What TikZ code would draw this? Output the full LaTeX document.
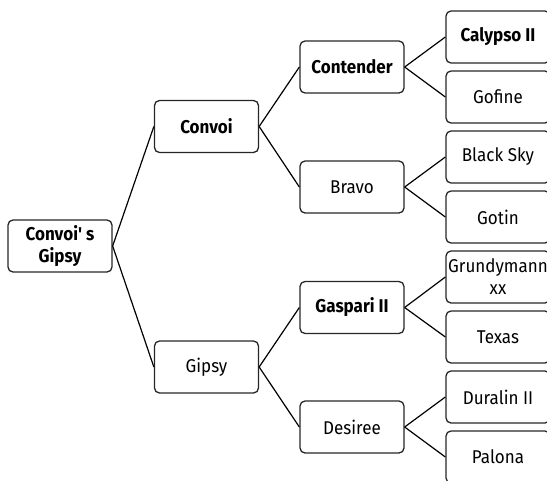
\documentclass[tikz,border=0pt]{standalone}
\usepackage{fontspec}
\setmainfont{Fira Sans}[FakeStretch=0.92, Ligatures=TeXOff]
\begin{document}
\begin{tikzpicture}[x=1pt,y=-1pt,
  box/.style={draw=black!85, line width=1.3pt, rounded corners=5pt, minimum width=104pt, minimum height=52pt, align=center, inner sep=2pt, font=\fontsize{18.5}{22}\selectfont, text=black},
  bbox/.style={box, font=\fontsize{18.5}{22}\selectfont\bfseries},
  link/.style={draw=black, line width=1.2pt}]
\useasboundingbox (0,0) rectangle (547,480);
\clip (0,0) rectangle (547,480);
\node[bbox] (root) at (60,246) {Convoi' s\\Gipsy};
\node[bbox] (convoi) at (206.5,126.5) {Convoi};
\node[box] (gipsy) at (206.5,367) {Gipsy};
\node[bbox] (contender) at (352,67) {Contender};
\node[box] (bravo) at (352,187) {Bravo};
\node[bbox] (gaspari) at (352,307.5) {Gaspari II};
\node[box] (desiree) at (352,427) {Desiree};
\node[bbox] (calypso) at (498,37) {Calypso II};
\node[box] (gofine) at (498,97) {Gofine};
\node[box] (blacksky) at (498,157) {Black Sky};
\node[box] (gotin) at (498,217) {Gotin};
\node[box] (grundy) at (498,277) {Grundymann\\xx};
\node[box] (texas) at (498,337) {Texas};
\node[box] (duralin) at (498,397) {Duralin II};
\node[box] (palona) at (498,457) {Palona};
\draw[link] (root.east) -- (convoi.west);
\draw[link] (root.east) -- (gipsy.west);
\draw[link] (convoi.east) -- (contender.west);
\draw[link] (convoi.east) -- (bravo.west);
\draw[link] (gipsy.east) -- (gaspari.west);
\draw[link] (gipsy.east) -- (desiree.west);
\draw[link] (contender.east) -- (calypso.west);
\draw[link] (contender.east) -- (gofine.west);
\draw[link] (bravo.east) -- (blacksky.west);
\draw[link] (bravo.east) -- (gotin.west);
\draw[link] (gaspari.east) -- (grundy.west);
\draw[link] (gaspari.east) -- (texas.west);
\draw[link] (desiree.east) -- (duralin.west);
\draw[link] (desiree.east) -- (palona.west);
\end{tikzpicture}
\end{document}
